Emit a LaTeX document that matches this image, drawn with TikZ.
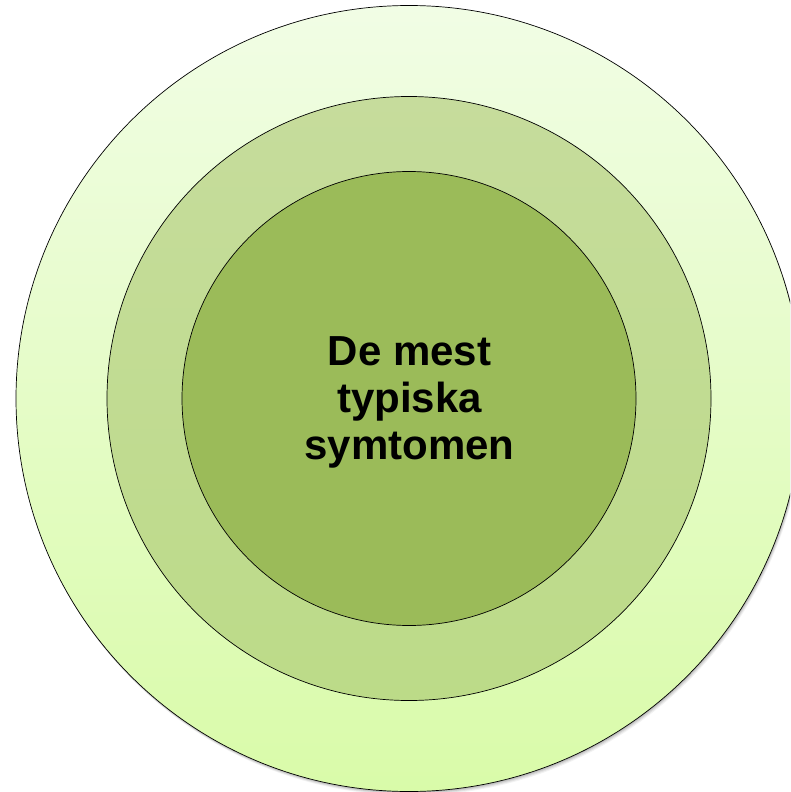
\documentclass[tikz,border=0pt]{standalone}
\usepackage{fontspec}
\setmainfont{Liberation Sans}
\begin{document}
\begin{tikzpicture}[x=1pt,y=-1pt,
  ring/.style={draw=black,line width=0.7pt},
  label/.style={font=\fontsize{42}{47}\selectfont\bfseries,align=center,inner sep=0pt}]
\definecolor{outerTop}{RGB}{241,253,229}
\definecolor{outerBot}{RGB}{217,251,169}
\definecolor{midTop}{RGB}{198,220,156}
\definecolor{midBot}{RGB}{188,219,136}
\definecolor{core}{RGB}{155,187,89}
\useasboundingbox (0,0) rectangle (790,792);
\begin{scope}
\clip (0,0) rectangle (790,792);
% soft shadow below the outer disc
\foreach \s/\o in {4/0.05,3/0.07,2/0.09,1/0.11}
  \fill[black,opacity=\o] (409+\s*0.5,398.5+\s) circle[radius=393];
\shade[ring,top color=outerTop,bottom color=outerBot] (409,398.5) circle[radius=393];
\shade[ring,top color=midTop,bottom color=midBot] (409,398.5) circle[radius=302];
\fill[ring,fill=core] (409,398.5) circle[radius=227];
\end{scope}
\node[label] (core) at (409.5,402) {De mest\\typiska\\symtomen};
\end{tikzpicture}
\end{document}
